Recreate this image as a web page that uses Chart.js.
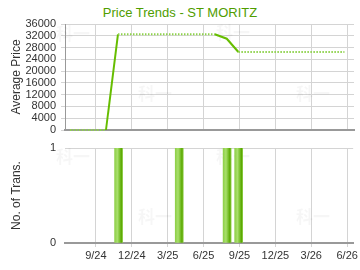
<!DOCTYPE html>
<html>
<head>
<meta charset="utf-8">
<script src="https://cdn.jsdelivr.net/npm/chart.js@4"></script>
<style>
  body { margin: 0; background: #fff; }
  #wrap { position: relative; width: 360px; height: 270px; }
  #title { position: absolute; top: 5px; left: 0; width: 360px; text-align: center;
           font: 13px "Liberation Sans", Arial, sans-serif; color: #4f9d00; }
  canvas { position: absolute; left: 0; }
</style>
</head>
<body>
<div id="wrap">
  <div id="title">Price Trends - ST MORITZ</div>
  <canvas id="price_chart" width="360" height="140" style="top:0"></canvas>
  <canvas id="trans_chart" width="360" height="130" style="top:140px"></canvas>
</div>
<script>
// data
var price_dates = ['2024-06-26', '2024-09-26', '2024-10-26', '2025-06-28', '2025-07-28', '2025-08-27', '2026-05-22'];
var price_values = [0, 0, 32500, 32500, 31000, 26500, 26500];
var trans_dates = ['2024-10-28', '2025-03-30', '2025-07-30', '2025-08-29'];
var trans_values = [1, 1, 1, 1];
var tick_labels = ['9/24', '12/24', '3/25', '6/25', '9/25', '12/25', '3/26', '6/26'];
var price_ticks = [0, 4000, 8000, 12000, 16000, 20000, 24000, 28000, 32000, 36000];

// months counted from Sep 2024
function toMonths(d) {
  var p = d.split('-').map(Number);
  return (p[0] - 2024) * 12 + (p[1] - 9) + (p[2] - 1) / 30;
}
function labelToMonths(l) {
  var p = l.split('/').map(Number);
  return (2000 + p[1] - 2024) * 12 + (p[0] - 9);
}
var tick_months = tick_labels.map(labelToMonths);
var x_min = -2.58, x_max = 21.5;
var font = { family: '"Liberation Sans", Arial, sans-serif', size: 11 };
var grid_color = '#d4d4d4';

var watermark = {
  id: 'watermark',
  beforeDatasetsDraw: function (chart, args, opts) {
    var c = chart.ctx;
    c.save();
    c.font = 'bold 17px "Noto Sans CJK SC"';
    c.fillStyle = 'rgba(0,0,0,0.035)';
    c.textBaseline = 'middle';
    opts.spots.forEach(function (s) { c.fillText('科一', s[0], s[1]); });
    c.restore();
  }
};

// fixed y axis box, no extra label padding
function fitY(scale) {
  scale.width = 65;
  scale.paddingTop = 0;
  scale.paddingBottom = 0;
}

function xScale(showLabels) {
  return {
    type: 'linear',
    min: x_min,
    max: x_max,
    offset: false,
    afterBuildTicks: function (scale) {
      scale.ticks = tick_months.map(function (v) { return { value: v }; });
    },
    afterFit: function (scale) { scale.height = showLabels ? 27 : 0; },
    grid: { color: grid_color, drawTicks: showLabels, tickLength: 4, offset: false },
    border: { color: '#999', width: 2 },
    ticks: {
      display: showLabels,
      padding: 2,
      color: '#333',
      font: font,
      maxRotation: 0,
      autoSkip: false,
      callback: function (v) {
        var i = tick_months.indexOf(v);
        return i >= 0 ? tick_labels[i] : '';
      }
    }
  };
}

var price_chart = new Chart(document.getElementById('price_chart').getContext('2d'), {
  type: 'line',
  data: {
    datasets: [{
      data: price_dates.map(function (d, i) { return { x: toMonths(d), y: price_values[i] }; }),
      borderColor: '#66bd00',
      borderWidth: 2,
      pointRadius: 0,
      tension: 0,
      clip: false,
      segment: {
        borderColor: function (ctx) { return ctx.p0.parsed.y === ctx.p1.parsed.y ? '#8fd24c' : undefined; },
        borderDash: function (ctx) { return ctx.p0.parsed.y === ctx.p1.parsed.y ? [1.5, 1.5] : undefined; }
      }
    }]
  },
  options: {
    responsive: false,
    animation: false,
    layout: { padding: { top: 24, right: 6, bottom: 10, left: 0 } },
    plugins: {
      legend: { display: false },
      tooltip: { enabled: false },
      watermark: { spots: [[56, 34], [138, 94], [216, 33], [296, 94]] }
    },
    scales: {
      x: xScale(false),
      y: {
        min: 0,
        max: 36000,
        afterBuildTicks: function (scale) {
          scale.ticks = price_ticks.map(function (v) { return { value: v }; });
        },
        afterFit: fitY,
        grid: { color: grid_color, tickLength: 4 },
        border: { color: '#999', width: 1 },
        ticks: { color: '#333', font: font, padding: 5, autoSkip: false,
                 callback: function (v) { return String(v); } },
        title: { display: true, text: 'Average Price', color: '#333',
                 font: { family: font.family, size: 12 }, padding: { top: 9, bottom: 0 } }
      }
    }
  },
  plugins: [watermark]
});

function barFill(context) {
  var chart = context.chart;
  if (!chart.chartArea || !context.raw) return '#8fd24c';
  var cx = chart.scales.x.getPixelForValue(context.raw.x);
  var g = chart.ctx.createLinearGradient(cx - 4, 0, cx + 4, 0);
  g.addColorStop(0, '#8ed048');
  g.addColorStop(0.35, '#a9df6c');
  g.addColorStop(0.65, '#79c02c');
  g.addColorStop(0.85, '#5aa800');
  g.addColorStop(1, '#8acb42');
  return g;
}

var trans_chart = new Chart(document.getElementById('trans_chart').getContext('2d'), {
  type: 'bar',
  data: {
    datasets: [{
      data: trans_dates.map(function (d, i) { return { x: toMonths(d), y: trans_values[i] }; }),
      backgroundColor: barFill,
      barThickness: 8,
      borderWidth: 0
    }]
  },
  options: {
    responsive: false,
    animation: false,
    layout: { padding: { top: 8, right: 6, bottom: 0, left: 0 } },
    plugins: {
      legend: { display: false },
      tooltip: { enabled: false },
      watermark: { spots: [[56, 17], [138, 77], [216, 17], [296, 77]] }
    },
    scales: {
      x: xScale(true),
      y: {
        min: 0,
        max: 1,
        afterBuildTicks: function (scale) {
          scale.ticks = [{ value: 0 }, { value: 1 }];
        },
        afterFit: fitY,
        grid: { color: grid_color, drawTicks: false },
        border: { display: false },
        ticks: { color: '#333', font: font, padding: 9 },
        title: { display: true, text: 'No. of Trans.', color: '#333',
                 font: { family: font.family, size: 12 }, padding: { top: 9, bottom: 0 } }
      }
    }
  },
  plugins: [watermark]
});
</script>
</body>
</html>
